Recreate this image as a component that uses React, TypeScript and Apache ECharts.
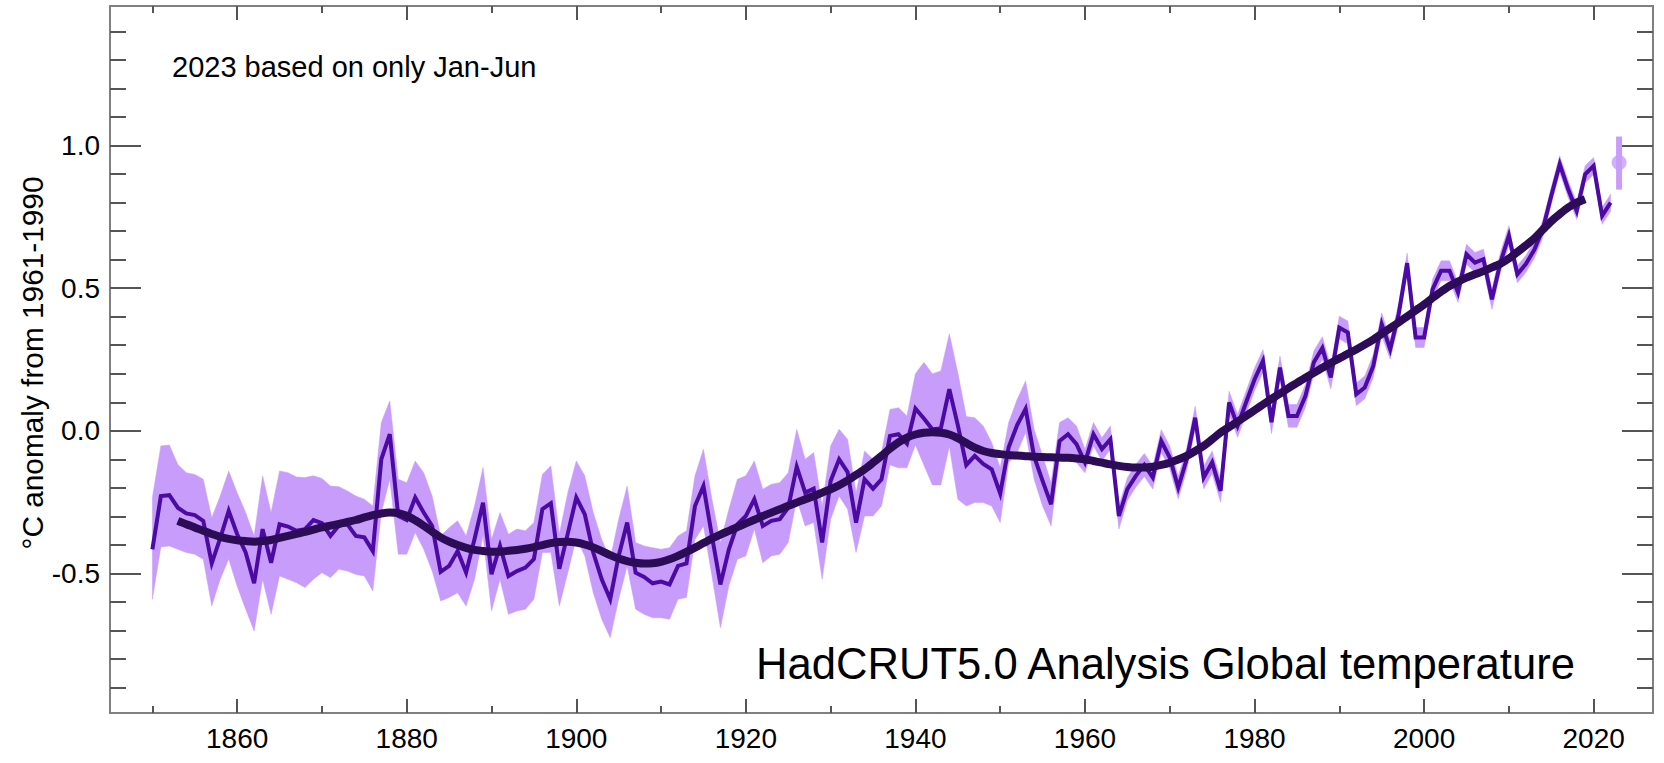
import React, { useEffect, useRef } from "react";
import * as echarts from "echarts";

// ---------------- DATA ----------------
const FIRST_YEAR = 1850;
// HadCRUT5 annual anomaly (°C from 1961-1990), 1850..2022
const anomaly: number[] = [
  -0.416, -0.229, -0.226, -0.270, -0.290, -0.296, -0.316, -0.465, -0.377, -0.281,
  -0.363, -0.427, -0.535, -0.345, -0.463, -0.328, -0.336, -0.351, -0.345, -0.313,
  -0.324, -0.369, -0.332, -0.328, -0.369, -0.374, -0.422, -0.100, -0.012, -0.299,
  -0.313, -0.234, -0.287, -0.334, -0.495, -0.474, -0.422, -0.497, -0.380, -0.252,
  -0.503, -0.404, -0.510, -0.492, -0.480, -0.450, -0.275, -0.254, -0.484, -0.360,
  -0.234, -0.293, -0.427, -0.521, -0.591, -0.439, -0.322, -0.498, -0.513, -0.535,
  -0.529, -0.539, -0.474, -0.465, -0.264, -0.194, -0.369, -0.539, -0.416, -0.328,
  -0.299, -0.240, -0.334, -0.316, -0.310, -0.270, -0.126, -0.217, -0.203, -0.392,
  -0.176, -0.100, -0.145, -0.322, -0.170, -0.203, -0.170, -0.018, -0.012, -0.045,
  0.078, 0.043, 0.005, 0.008, 0.146, 0.020, -0.120, -0.088, -0.116, -0.135,
  -0.220, -0.058, 0.020, 0.077, -0.090, -0.176, -0.258, -0.036, -0.012, -0.047,
  -0.111, -0.012, -0.064, -0.030, -0.299, -0.205, -0.158, -0.120, -0.164, -0.036,
  -0.094, -0.199, -0.100, 0.046, -0.164, -0.111, -0.211, 0.099, 0.017, 0.099,
  0.180, 0.245, 0.030, 0.222, 0.052, 0.052, 0.122, 0.240, 0.290, 0.187,
  0.362, 0.345, 0.128, 0.152, 0.227, 0.374, 0.286, 0.409, 0.588, 0.327,
  0.327, 0.496, 0.561, 0.561, 0.485, 0.619, 0.590, 0.602, 0.461, 0.590,
  0.684, 0.549, 0.585, 0.635, 0.707, 0.824, 0.935, 0.847, 0.771, 0.900,
  0.929, 0.754, 0.800,
];

// Upper edge of the uncertainty range, 1850..2022
const bandHigh: number[] = [
  -0.234, -0.053, -0.050, -0.118, -0.147, -0.153, -0.170, -0.305, -0.229, -0.141,
  -0.217, -0.287, -0.369, -0.158, -0.287, -0.141, -0.147, -0.162, -0.164, -0.158,
  -0.167, -0.194, -0.196, -0.211, -0.229, -0.240, -0.264, 0.029, 0.105, -0.170,
  -0.182, -0.106, -0.147, -0.229, -0.369, -0.340, -0.316, -0.369, -0.264, -0.129,
  -0.381, -0.287, -0.363, -0.345, -0.351, -0.322, -0.153, -0.123, -0.363, -0.217,
  -0.106, -0.158, -0.287, -0.381, -0.451, -0.310, -0.194, -0.392, -0.404, -0.410,
  -0.416, -0.410, -0.369, -0.351, -0.158, -0.065, -0.240, -0.392, -0.275, -0.170,
  -0.158, -0.106, -0.205, -0.188, -0.182, -0.147, 0.005, -0.100, -0.076, -0.264,
  -0.053, 0.005, -0.030, -0.217, -0.071, -0.100, -0.076, 0.075, 0.081, 0.052,
  0.200, 0.240, 0.200, 0.210, 0.340, 0.204, 0.050, 0.046, 0.017, -0.041,
  -0.130, 0.029, 0.110, 0.175, 0.005, -0.088, -0.182, 0.029, 0.046, 0.017,
  -0.065, 0.029, -0.024, 0.017, -0.264, -0.165, -0.118, -0.080, -0.124, 0.004,
  -0.054, -0.159, -0.060, 0.086, -0.124, -0.071, -0.171, 0.139, 0.057, 0.139,
  0.220, 0.285, 0.070, 0.262, 0.092, 0.092, 0.162, 0.280, 0.330, 0.227,
  0.402, 0.385, 0.168, 0.192, 0.267, 0.414, 0.321, 0.444, 0.623, 0.362,
  0.362, 0.531, 0.596, 0.596, 0.520, 0.654, 0.625, 0.637, 0.496, 0.625,
  0.719, 0.579, 0.615, 0.665, 0.737, 0.854, 0.965, 0.877, 0.801, 0.930,
  0.959, 0.784, 0.830,
];

// Lower edge of the uncertainty range, 1850..2022
const bandLow: number[] = [
  -0.591, -0.408, -0.404, -0.416, -0.427, -0.433, -0.451, -0.615, -0.521, -0.450,
  -0.545, -0.626, -0.702, -0.521, -0.644, -0.509, -0.521, -0.533, -0.550, -0.521,
  -0.498, -0.515, -0.486, -0.492, -0.504, -0.509, -0.562, -0.287, -0.170, -0.433,
  -0.433, -0.357, -0.416, -0.492, -0.597, -0.585, -0.568, -0.615, -0.521, -0.369,
  -0.632, -0.521, -0.644, -0.632, -0.626, -0.591, -0.427, -0.427, -0.615, -0.498,
  -0.375, -0.439, -0.568, -0.661, -0.726, -0.591, -0.474, -0.626, -0.644, -0.656,
  -0.656, -0.661, -0.591, -0.585, -0.381, -0.334, -0.509, -0.691, -0.544, -0.451,
  -0.439, -0.345, -0.463, -0.439, -0.433, -0.392, -0.240, -0.334, -0.322, -0.521,
  -0.310, -0.229, -0.275, -0.427, -0.299, -0.299, -0.264, -0.120, -0.130, -0.130,
  -0.050, -0.120, -0.190, -0.190, -0.055, -0.240, -0.264, -0.252, -0.252, -0.264,
  -0.322, -0.112, -0.076, -0.006, -0.170, -0.264, -0.334, -0.100, -0.082, -0.112,
  -0.147, -0.053, -0.106, -0.065, -0.345, -0.245, -0.198, -0.160, -0.204, -0.076,
  -0.134, -0.239, -0.140, 0.006, -0.204, -0.151, -0.251, 0.059, -0.023, 0.059,
  0.140, 0.205, -0.010, 0.182, 0.012, 0.012, 0.082, 0.200, 0.250, 0.147,
  0.322, 0.305, 0.088, 0.112, 0.187, 0.334, 0.251, 0.374, 0.553, 0.292,
  0.292, 0.461, 0.526, 0.526, 0.450, 0.584, 0.555, 0.567, 0.426, 0.555,
  0.649, 0.519, 0.555, 0.605, 0.677, 0.794, 0.905, 0.817, 0.741, 0.870,
  0.899, 0.724, 0.770,
];

// Smoothed series, 1853..2019
const SMOOTH_FIRST_YEAR = 1853;
const smoothed: number[] = [
  -0.316, -0.328, -0.339, -0.351, -0.362, -0.372, -0.379,
  -0.384, -0.387, -0.389, -0.387, -0.383, -0.376, -0.369, -0.362, -0.355, -0.347,
  -0.339, -0.333, -0.327, -0.320, -0.313, -0.304, -0.296, -0.290, -0.287, -0.289,
  -0.298, -0.314, -0.333, -0.354, -0.374, -0.389, -0.401, -0.411, -0.418, -0.422,
  -0.424, -0.424, -0.421, -0.418, -0.414, -0.408, -0.401, -0.394, -0.390, -0.389,
  -0.392, -0.399, -0.409, -0.422, -0.436, -0.448, -0.457, -0.463, -0.466, -0.465,
  -0.460, -0.451, -0.439, -0.425, -0.410, -0.394, -0.378, -0.364, -0.351, -0.338,
  -0.325, -0.312, -0.299, -0.287, -0.275, -0.263, -0.252, -0.240, -0.229, -0.217,
  -0.205, -0.191, -0.174, -0.155, -0.135, -0.112, -0.088, -0.063, -0.041, -0.024,
  -0.013, -0.007, -0.005, -0.007, -0.013, -0.026, -0.043, -0.059, -0.071, -0.078,
  -0.082, -0.085, -0.087, -0.089, -0.091, -0.092, -0.093, -0.094, -0.095, -0.097,
  -0.100, -0.106, -0.112, -0.118, -0.123, -0.127, -0.129, -0.129, -0.126, -0.120,
  -0.112, -0.101, -0.088, -0.071, -0.053, -0.030, -0.006, 0.013, 0.032, 0.052,
  0.072, 0.092, 0.112, 0.130, 0.150, 0.168, 0.186, 0.203, 0.221, 0.238,
  0.254, 0.270, 0.285, 0.302, 0.320, 0.340, 0.360, 0.380, 0.401, 0.422,
  0.443, 0.466, 0.488, 0.508, 0.523, 0.537, 0.549, 0.560, 0.573, 0.586,
  0.604, 0.627, 0.650, 0.675, 0.705, 0.735, 0.760, 0.783, 0.800, 0.812,
];

// 2023 (Jan-Jun only) estimate with its range
const latestYear = 2023;
const latestValue = 0.941;
const latestLow = 0.846;
const latestHigh = 1.032;

// Axis ticks
const xLabelYears = [1860, 1880, 1900, 1920, 1940, 1960, 1980, 2000, 2020];
const xMinorYears = [1850, 1870, 1890, 1910, 1930, 1950, 1970, 1990, 2010];
const yMajorTicks = [-0.5, 0.0, 0.5, 1.0];
const yMinorTicks = [
  -0.9, -0.8, -0.7, -0.6, -0.4, -0.3, -0.2, -0.1, 0.1, 0.2,
  0.3, 0.4, 0.6, 0.7, 0.8, 0.9, 1.1, 1.2, 1.3, 1.4,
];

const noteText = "2023 based on only Jan-Jun";
const titleText = "HadCRUT5.0 Analysis Global temperature";
const yTitleText = "°C anomaly from 1961-1990";

// ---------------- STYLE ----------------
const X_MIN = 1845;
const X_MAX = 2027;
const Y_MIN = -0.99;
const Y_MAX = 1.49;
const FONT = '"Liberation Sans", Arial, Helvetica, sans-serif';
const BAND_COLOR = "#c89cfa";
const LINE_COLOR = "#4b0aa4";
const SMOOTH_COLOR = "#2c0b57";
const TICK_COLOR = "#555555";
const FRAME_COLOR = "#808080";

export default function App() {
  const ref = useRef<HTMLDivElement>(null);

  useEffect(() => {
    if (!ref.current) return;
    const chart = echarts.init(ref.current, undefined, { renderer: "svg" });

    const years = anomaly.map((_, i) => FIRST_YEAR + i);
    const smoothYears = smoothed.map((_, i) => SMOOTH_FIRST_YEAR + i);

    const tickLine = { color: TICK_COLOR, width: 2 };
    const xBase = {
      type: "value",
      min: X_MIN,
      max: X_MAX,
      splitLine: { show: false },
      axisLine: { show: false, onZero: false },
      gridIndex: 0,
    };
    const yBase = {
      type: "value",
      min: Y_MIN,
      max: Y_MAX,
      splitLine: { show: false },
      axisLine: { show: false, onZero: false },
      gridIndex: 0,
    };

    const option: any = {
      animation: false,
      backgroundColor: "#ffffff",
      grid: {
        left: 110,
        right: 11,
        top: 6,
        bottom: 50,
        show: true,
        borderColor: FRAME_COLOR,
        borderWidth: 2,
        backgroundColor: "transparent",
        containLabel: false,
      },
      xAxis: [
        {
          ...xBase,
          position: "bottom",
          axisTick: { inside: true, length: 14, customValues: xLabelYears, lineStyle: tickLine },
          axisLabel: {
            customValues: xLabelYears,
            formatter: (v: number) => String(Math.round(v)),
            fontSize: 28,
            fontFamily: FONT,
            color: "#000",
            margin: 11,
          },
        },
        {
          ...xBase,
          position: "bottom",
          axisTick: { inside: true, length: 7, customValues: xMinorYears, lineStyle: tickLine },
          axisLabel: { show: false },
        },
        {
          ...xBase,
          position: "top",
          axisTick: { inside: true, length: 14, customValues: xLabelYears, lineStyle: tickLine },
          axisLabel: { show: false },
        },
        {
          ...xBase,
          position: "top",
          axisTick: { inside: true, length: 7, customValues: xMinorYears, lineStyle: tickLine },
          axisLabel: { show: false },
        },
      ],
      yAxis: [
        {
          ...yBase,
          position: "left",
          axisTick: { inside: true, length: 31, customValues: yMajorTicks, lineStyle: tickLine },
          axisLabel: {
            customValues: yMajorTicks,
            formatter: (v: number) => v.toFixed(1),
            fontSize: 28,
            fontFamily: FONT,
            color: "#000",
            margin: 10,
          },
        },
        {
          ...yBase,
          position: "left",
          axisTick: { inside: true, length: 16, customValues: yMinorTicks, lineStyle: tickLine },
          axisLabel: { show: false },
        },
        {
          ...yBase,
          position: "right",
          axisTick: { inside: true, length: 31, customValues: yMajorTicks, lineStyle: tickLine },
          axisLabel: { show: false },
        },
        {
          ...yBase,
          position: "right",
          axisTick: { inside: true, length: 16, customValues: yMinorTicks, lineStyle: tickLine },
          axisLabel: { show: false },
        },
      ],
      series: [
        {
          type: "custom",
          name: "range",
          xAxisIndex: 0,
          yAxisIndex: 0,
          silent: true,
          clip: true,
          z: 1,
          data: years.map((y, i) => [y, bandLow[i], bandHigh[i]]),
          encode: { x: 0, y: [1, 2] },
          renderItem: (params: any, api: any) => {
            if (params.dataIndex !== 0) return null;
            const pts: number[][] = [];
            for (let i = 0; i < years.length; i++) pts.push(api.coord([years[i], bandHigh[i]]));
            for (let i = years.length - 1; i >= 0; i--) pts.push(api.coord([years[i], bandLow[i]]));
            return {
              type: "polygon",
              shape: { points: pts },
              style: { fill: BAND_COLOR, stroke: BAND_COLOR, lineWidth: 0.5 },
            };
          },
        },
        {
          type: "line",
          name: "annual",
          xAxisIndex: 0,
          yAxisIndex: 0,
          z: 3,
          symbol: "none",
          data: years.map((y, i) => [y, anomaly[i]]),
          lineStyle: { color: LINE_COLOR, width: 4, join: "miter", miterLimit: 4 },
        },
        {
          type: "line",
          name: "smoothed",
          xAxisIndex: 0,
          yAxisIndex: 0,
          z: 4,
          symbol: "none",
          smooth: 0.3,
          data: smoothYears.map((y, i) => [y, smoothed[i]]),
          lineStyle: { color: SMOOTH_COLOR, width: 8, cap: "butt", join: "round" },
        },
        {
          type: "line",
          name: "2023 range",
          xAxisIndex: 0,
          yAxisIndex: 0,
          z: 3,
          symbol: "none",
          data: [
            [latestYear, latestLow],
            [latestYear, latestHigh],
          ],
          lineStyle: { color: BAND_COLOR, width: 6, cap: "butt" },
        },
        {
          type: "scatter",
          name: "2023",
          xAxisIndex: 0,
          yAxisIndex: 0,
          z: 4,
          symbol: "circle",
          symbolSize: 15,
          data: [[latestYear, latestValue]],
          itemStyle: { color: BAND_COLOR },
        },
      ],
      graphic: [
        {
          type: "text",
          x: 172,
          y: 67,
          silent: true,
          style: {
            text: noteText,
            fill: "#000",
            font: `29px ${FONT}`,
            align: "left",
            verticalAlign: "middle",
          },
        },
        {
          type: "text",
          x: 756,
          y: 664,
          silent: true,
          style: {
            text: titleText,
            fill: "#000",
            font: `43.6px ${FONT}`,
            align: "left",
            verticalAlign: "middle",
          },
        },
        {
          type: "text",
          x: 32,
          y: 363,
          rotation: Math.PI / 2,
          silent: true,
          style: {
            text: yTitleText,
            fill: "#000",
            font: `29.8px ${FONT}`,
            align: "center",
            verticalAlign: "middle",
          },
        },
      ],
    };

    chart.setOption(option);
    return () => chart.dispose();
  }, []);

  return (
    <div
      ref={ref}
      style={{ position: "absolute", left: 0, top: 0, width: 1664, height: 763, background: "#fff" }}
    />
  );
}
